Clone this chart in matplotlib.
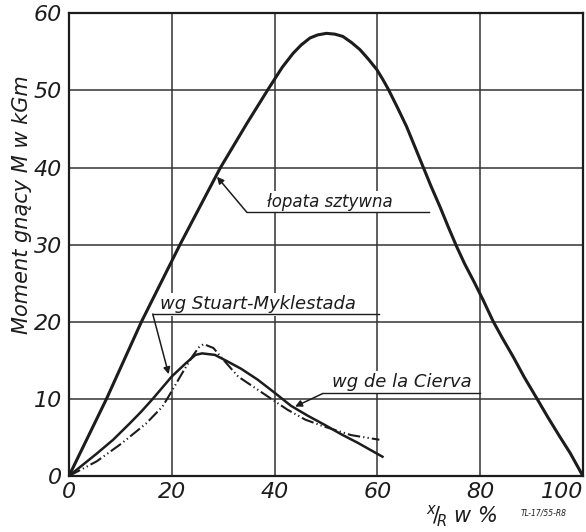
import matplotlib
matplotlib.use("Agg")
import matplotlib.pyplot as plt

# krzywe (x/R w %, M w kGm)
rigid_x = [0, 7.3, 14.1, 21.6, 29.4, 34.6, 38.8, 41.5, 43.6, 45.2, 46.9, 48.4, 50.1, 51.7,
           53.3, 55.0, 56.6, 58.2, 59.9, 61.0, 62.1, 63.9, 65.7, 67.3, 68.9, 70.5, 72.2,
           73.8, 75.4, 77.0, 78.8, 80.6, 82.5, 84.4, 86.4, 88.6, 91.0, 93.2, 95.5, 97.5, 100]
rigid_y = [0, 10, 20, 30, 39.9, 45.7, 50.2, 53.0, 54.8, 55.9, 56.8, 57.2, 57.4, 57.3,
           57.0, 56.2, 55.3, 54.1, 52.7, 51.5, 50.2, 47.8, 45.3, 42.7, 40.1, 37.5, 34.9,
           32.3, 29.8, 27.5, 25.2, 22.8, 20.1, 17.8, 15.5, 12.8, 10.1, 7.6, 5.1, 3.0, 0]

stuart_x = [0, 5.4, 8.6, 11.8, 14.0, 16.3, 20.0, 22.7, 24.6, 25.9, 28.4, 31.0, 33.5,
            36.7, 40.0, 43.2, 46.5, 49.7, 53.0, 56.2, 61.0]
stuart_y = [0, 2.9, 4.7, 6.8, 8.3, 10.0, 12.9, 14.6, 15.7, 15.9, 15.7, 14.8, 13.9,
            12.5, 10.8, 9.1, 7.8, 6.65, 5.4, 4.3, 2.5]

cierva_x = [0, 5.4, 10.2, 15.0, 18.2, 20.0, 22.0, 24.0, 25.3, 26.2, 28.1, 30.4, 32.9,
            36.7, 42.5, 46.0, 49.7, 54.9, 60.4]
cierva_y = [0, 1.9, 4.2, 6.8, 9.0, 11.0, 13.3, 15.5, 16.7, 17.1, 16.6, 14.8, 12.9,
            11.2, 8.6, 7.3, 6.4, 5.3, 4.7]

x_ticks = [0, 20, 40, 60, 80, 100]
y_ticks = [0, 10, 20, 30, 40, 50, 60]

ink = "#1c1c1c"
fnt = dict(family="DejaVu Sans", style="oblique", color=ink)

fig = plt.figure(figsize=(5.86, 5.32), dpi=100)
ax = fig.add_axes([0.1177, 0.1053, 0.877, 0.8697])

ax.plot(rigid_x, rigid_y, color=ink, lw=2.2, zorder=3,
        solid_capstyle="round", solid_joinstyle="round")
ax.plot(stuart_x, stuart_y, color=ink, lw=1.8, zorder=3, solid_joinstyle="round")
ax.plot(cierva_x, cierva_y, color=ink, lw=1.5, zorder=3,
        dashes=(6, 1.5, 0.6, 1.5, 0.6, 1.5))

ax.set_xlim(0, 100)
ax.set_ylim(0, 60)
ax.set_xticks(x_ticks)
ax.set_yticks(y_ticks)
ax.set_xticklabels([str(v) for v in x_ticks], fontsize=16, **fnt)
ax.set_yticklabels([str(v) for v in y_ticks], fontsize=16, **fnt)
ax.get_xticklabels()[-1].set_ha("right")
ax.tick_params(axis="x", length=0, pad=4)
ax.tick_params(axis="y", length=0, pad=5)
ax.grid(True, color="#333333", lw=1.1)
ax.set_axisbelow(True)
for s in ax.spines.values():
    s.set_linewidth(1.6)
    s.set_color(ink)

box = dict(facecolor="white", edgecolor="none", pad=1.5)
arrow = dict(arrowstyle="-|>", lw=1.1, color=ink, mutation_scale=10, shrinkA=0, shrinkB=0)

# łopata sztywna
ax.text(38.5, 34.9, "łopata sztywna", fontsize=12, va="baseline", ha="left",
        bbox=box, zorder=2, **fnt)
ax.plot([34.6, 70.0], [34.2, 34.2], color=ink, lw=1.0, zorder=3)
ax.annotate("", xy=(28.8, 38.8), xytext=(34.6, 34.2), arrowprops=arrow, zorder=3)

# wg Stuart-Myklestada
ax.text(17.7, 21.6, "wg Stuart-Myklestada", fontsize=13, va="baseline", ha="left",
        bbox=box, zorder=2, **fnt)
ax.plot([16.3, 60.3], [21.0, 21.0], color=ink, lw=1.0, zorder=3)
ax.annotate("", xy=(19.4, 13.2), xytext=(16.3, 21.0), arrowprops=arrow, zorder=3)

# wg de la Cierva
ax.text(51.2, 11.5, "wg de la Cierva", fontsize=13, va="baseline", ha="left",
        bbox=box, zorder=2, **fnt)
ax.plot([49.4, 80.0], [10.7, 10.7], color=ink, lw=1.0, zorder=3)
ax.annotate("", xy=(44.0, 9.0), xytext=(49.4, 10.7), arrowprops=arrow, zorder=3)

fig.text(0.0375, 0.615, "Moment gnący M w kGm", rotation=90, ha="center", va="center",
         fontsize=15, **fnt)
fig.text(0.787, 0.030, r"$^{x}\!/\!_{R}$ w %", ha="center", va="center", fontsize=15, **fnt)
fig.text(0.928, 0.036, "TL-17/55-R8", ha="center", va="center", fontsize=5.5, **fnt)

fig.savefig("out.png", dpi=100, facecolor="white")
